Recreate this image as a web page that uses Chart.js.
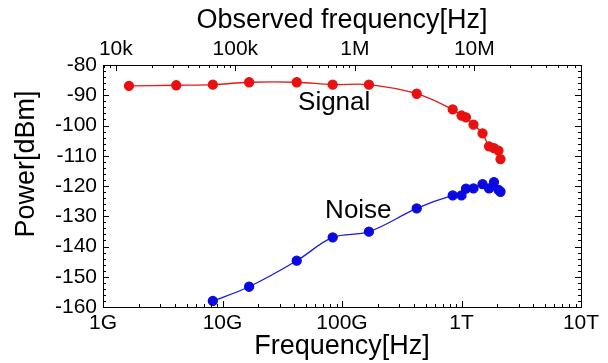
<!DOCTYPE html>
<html><head><meta charset="utf-8">
<script src="https://cdn.jsdelivr.net/npm/chart.js@4/dist/chart.umd.min.js"></script>
<style>html,body{margin:0;padding:0;background:#fff;}#wrap{width:608px;height:363px;}</style>
</head><body><div id="wrap"><canvas id="c" width="608" height="363"></canvas></div>
<script>
// ---- data ----
const signalFreq  = [1.65e9, 4.1e9, 8.3e9, 1.67e10, 4.18e10, 8.36e10, 1.68e11, 4.22e11, 8.44e11, 1.0e12, 1.09e12, 1.26e12, 1.50e12, 1.70e12, 1.87e12, 2.04e12, 2.12e12];
const signalPower = [-86.9, -86.7, -86.5, -85.7, -85.7, -86.5, -86.5, -89.5, -94.7, -96.7, -97.3, -99.7, -102.6, -106.9, -107.5, -108.3, -111.1];
const noiseFreq   = [8.3e9, 1.67e10, 4.18e10, 8.36e10, 1.68e11, 4.22e11, 8.44e11, 1.0e12, 1.09e12, 1.26e12, 1.50e12, 1.70e12, 1.87e12, 2.04e12, 2.12e12];
const noisePower  = [-158.0, -153.3, -144.7, -137.0, -135.1, -127.4, -123.1, -123.1, -120.9, -120.8, -119.4, -120.8, -118.7, -121.3, -121.9];
const bottomTicks  = [1e9, 1e10, 1e11, 1e12, 1e13];
const bottomLabels = ['1G', '10G', '100G', '1T', '10T'];
const topTicks     = [1e4, 1e5, 1e6, 1e7];
const topLabels    = ['10k', '100k', '1M', '10M'];
const yMajorTicks  = [-160, -150, -140, -130, -120, -110, -100, -90, -80];
const obsFactor    = 1.28e5; // frequency / observed frequency
const annotations  = [
  {text: 'Signal', x: 8.6e10, y: -92.6},
  {text: 'Noise',  x: 1.37e11, y: -128.3}
];

// ---- helpers ----
function logTicks(majors, min, max) {
  const out = [];
  const lo = Math.floor(Math.log10(min)), hi = Math.ceil(Math.log10(max));
  for (let e = lo; e <= hi; e++) {
    for (let k = 1; k <= 9; k++) {
      const v = k * Math.pow(10, e);
      if (v >= min * 0.999 && v <= max * 1.001) out.push({value: v, major: k === 1});
    }
  }
  return out;
}
const FONT = "'Liberation Sans', Arial, Helvetica, sans-serif";
const xMin = 1e9, xMax = 1e13;

const framePlugin = {
  id: 'frame',
  afterDraw(chart) {
    const {ctx, chartArea: a, scales} = chart;
    ctx.save();
    ctx.strokeStyle = '#000';
    ctx.lineWidth = 1;
    ctx.beginPath();
    scales.x.ticks.forEach(t => {
      const px = Math.round(scales.x.getPixelForValue(t.value)) + 0.5;
      const len = t.major ? 6 : 3;
      ctx.moveTo(px, a.bottom); ctx.lineTo(px, a.bottom - len);
    });
    scales.x2.ticks.forEach(t => {
      const px = Math.round(scales.x2.getPixelForValue(t.value)) + 0.5;
      const len = t.major ? 6 : 3;
      ctx.moveTo(px, a.top); ctx.lineTo(px, a.top + len);
    });
    scales.y.ticks.forEach(t => {
      const py = Math.round(scales.y.getPixelForValue(t.value)) + 0.5;
      const len = (Math.round(t.value) % 10 === 0) ? 6 : 3;
      ctx.moveTo(a.left, py); ctx.lineTo(a.left + len, py);
      ctx.moveTo(a.right, py); ctx.lineTo(a.right - len, py);
    });
    ctx.stroke();
    ctx.strokeRect(Math.round(a.left) + 0.5, Math.round(a.top) + 0.5, Math.round(a.right - a.left), Math.round(a.bottom - a.top));
    ctx.fillStyle = '#000';
    ctx.font = '26px ' + FONT;
    ctx.textAlign = 'center';
    ctx.textBaseline = 'middle';
    annotations.forEach(an => {
      ctx.fillText(an.text, scales.x.getPixelForValue(an.x), scales.y.getPixelForValue(an.y));
    });
    ctx.translate(27, 164);
    ctx.rotate(-Math.PI / 2);
    ctx.font = '27px ' + FONT;
    ctx.fillText('Power[dBm]', 0, 0);
    ctx.restore();
  }
};

const mk = (fx, py) => fx.map((f, i) => ({x: f, y: py[i]}));
const noGrid = {display: false, drawTicks: false, tickLength: 0};

new Chart(document.getElementById('c'), {
  type: 'line',
  data: {
    datasets: [
      {label: 'Signal', data: mk(signalFreq, signalPower), borderColor: '#e81818', backgroundColor: '#e81010',
       pointBackgroundColor: '#e81010', pointBorderColor: '#e81010', pointRadius: 4.5, borderWidth: 1.3, tension: 0.35, xAxisID: 'x', yAxisID: 'y'},
      {label: 'Noise', data: mk(noiseFreq, noisePower), borderColor: '#1a1ae0', backgroundColor: '#0a0ae0',
       pointBackgroundColor: '#0a0ae0', pointBorderColor: '#0a0ae0', pointRadius: 4.5, borderWidth: 1.3, tension: 0.35, xAxisID: 'x', yAxisID: 'y'}
    ]
  },
  options: {
    responsive: false,
    animation: false,
    devicePixelRatio: 1,
    layout: {padding: {left: 0, right: 27, top: 0, bottom: 0}},
    plugins: {legend: {display: false}, tooltip: {enabled: false}},
    scales: {
      x: {
        type: 'logarithmic', position: 'bottom', min: xMin, max: xMax,
        afterBuildTicks: s => { s.ticks = logTicks(bottomTicks, xMin, xMax); },
        afterFit: s => { s.height = 56; },
        grid: noGrid, border: {display: false},
        ticks: {autoSkip: false, maxRotation: 0, padding: 4, color: '#000', font: {family: FONT, size: 21},
          callback: v => { const i = bottomTicks.findIndex(t => Math.abs(t - v) / t < 1e-6); return i >= 0 ? bottomLabels[i] : ''; }},
        title: {display: true, text: 'Frequency[Hz]', color: '#000', font: {family: FONT, size: 27}, padding: {top: 0, bottom: 0}}
      },
      x2: {
        type: 'logarithmic', position: 'top', min: xMin / obsFactor, max: xMax / obsFactor,
        afterBuildTicks: s => { s.ticks = logTicks(topTicks, xMin / obsFactor, xMax / obsFactor); },
        afterFit: s => { s.height = 65; },
        grid: noGrid, border: {display: false},
        ticks: {autoSkip: false, maxRotation: 0, padding: 3, color: '#000', font: {family: FONT, size: 21},
          callback: v => { const i = topTicks.findIndex(t => Math.abs(t - v) / t < 1e-6); return i >= 0 ? topLabels[i] : ''; }},
        title: {display: true, text: 'Observed frequency[Hz]', color: '#000', font: {family: FONT, size: 27}, padding: {top: 4, bottom: 0}}
      },
      y: {
        type: 'linear', position: 'left', min: -160, max: -80,
        afterFit: s => { s.width = 103; },
        grid: noGrid, border: {display: false},
        ticks: {stepSize: 2, autoSkip: false, padding: 6, color: '#000', font: {family: FONT, size: 21},
          callback: v => yMajorTicks.includes(Math.round(v)) ? String(Math.round(v)) : ''}
      }
    }
  },
  plugins: [framePlugin]
});
</script>
</body></html>
